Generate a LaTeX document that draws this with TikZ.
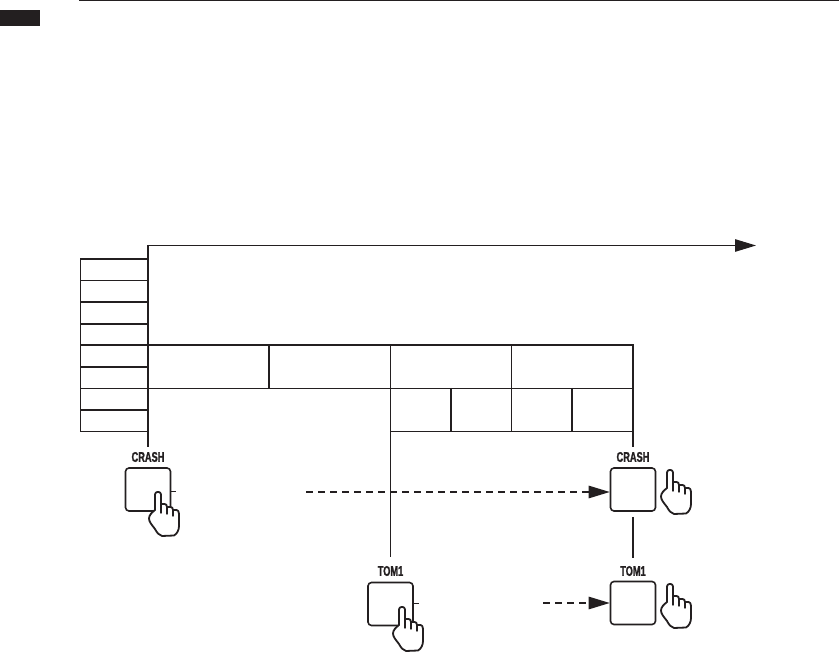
\documentclass[tikz,border=0pt]{standalone}
\usepackage{fontspec}
\setmainfont{Liberation Sans}
\newfontfamily\lblfont[BoldFeatures={FakeStretch=0.66,FakeBold=1.2}]{Liberation Sans}
\usetikzlibrary{arrows.meta}
\definecolor{ink}{HTML}{231F20}
\tikzset{
  x=1pt,y=-1pt,
  thin line/.style={draw=ink,line width=1pt},
  thick line/.style={draw=ink,line width=1.7pt},
  btn/.style={draw=ink,line width=1.6pt,rounded corners=3.5pt,minimum width=45pt,minimum height=43pt,inner sep=0pt,fill=white},
  lbl/.style={text=ink,inner sep=0pt,font=\lblfont\bfseries\fontsize{14}{14}\selectfont},
  bigtip/.style={-{Triangle[length=21pt,width=12.5pt,fill=ink]}},
  dashline/.style={thin line,line width=1.2pt,dash pattern=on 7pt off 5pt,bigtip},
  hand/.pic={
    \draw[draw=ink,fill=white,line width=1.8pt,line join=round,line cap=round]
      (-3,18) -- (-3,2.5) .. controls (-3,-1) and (3,-1) .. (3,2.5) -- (3,12)
      -- (6.5,12) .. controls (8,12) and (9,13) .. (9,15)
      -- (12.5,15) .. controls (14,15) and (15,16) .. (15,18)
      -- (18.5,18) .. controls (20,18) and (21,19.5) .. (21,22)
      -- (21,34) .. controls (21,38) and (19,42) .. (16,43.5)
      -- (4,44) .. controls (1,43) and (-1,41) .. (-3,37)
      .. controls (-6,33) and (-9,30) .. (-9,26.5)
      .. controls (-9,23) and (-6,20.5) .. (-3,18) -- cycle;
    \draw[draw=ink,line width=1.4pt,line cap=round]
      (3,12) -- (3,21) (9,15) -- (9,22) (15,18) -- (15,24);
  }
}
\begin{document}
\begin{tikzpicture}
\useasboundingbox (0,0) rectangle (839,652);
% page header
\node[draw=none,fill=ink,minimum width=40pt,minimum height=16pt,inner sep=0pt,anchor=north west] (tab) at (0,10) {};
\coordinate (headL) at (79,0.6); \coordinate (headR) at (839,0.6);
\draw[thin line] (headL) -- (headR);
% time axis
\coordinate (axisO) at (148,245.5); \coordinate (axisE) at (756,245.5);
\draw[thin line,bigtip] (axisO) -- (axisE);
% buttons
\node[btn] (crashL) at (148,489.5) {};
\node[btn] (crashR) at (633,489.5) {};
\node[btn] (tomC) at (390.5,604) {};
\node[btn] (tomR) at (633,603) {};
% labels
\node[lbl] (lcrashL) at (148,457) {CRASH};
\node[lbl] (lcrashR) at (633,457) {CRASH};
\node[lbl] (ltomC) at (390.5,571) {TOM1};
\node[lbl] (ltomR) at (633,571) {TOM1};
% left column
\draw[thin line] (80,259) -- (80,431.5);
\foreach \y/\s in {259/thick line,280.5/thin line,302/thick line,324/thick line,367/thick line,388.5/thin line,410/thick line,431.5/thin line}
  \draw[\s] (80,\y) -- (148,\y);
% grid
\draw[thick line] (80,345) -- (633.8,345);
\draw[thin line] (148,388.5) -- (633,388.5);
\draw[thin line] (390,431.5) -- (633,431.5);
\draw[thick line] (148,245) -- (148,447);
\draw[thick line] (269,345) -- (269,388);
\draw[thick line] (511.5,345) -- (511.5,431);
\draw[thick line] (451,388) -- (451,431);
\draw[thick line] (572,388) -- (572,431);
\draw[thick line] (633,345) -- (633,447);
\draw[thin line] (390,345) -- (390,557);
\draw[thin line,line width=1.3pt] (crashR.south |- 0,517) -- (crashR.south |- 0,558);
% ticks
\coordinate (tickL) at (176,492); \coordinate (tickC) at (419,603);
\draw[thin line] (crashL.east |- tickL) -- (tickL);
\draw[thin line] (tomC.east |- tickC) -- (tickC);
% dashed arrows
\coordinate (dashA) at (306,492); \coordinate (dashB) at (543,603);
\draw[dashline] (dashA) -- (crashR.west |- dashA) ;
\draw[dashline] (dashB) -- (tomR.west |- dashB);
% hands
\pic at (158,492) {hand};
\pic at (402,607) {hand};
\pic at (670,470) {hand};
\pic at (670,584) {hand};
\end{tikzpicture}
\end{document}
